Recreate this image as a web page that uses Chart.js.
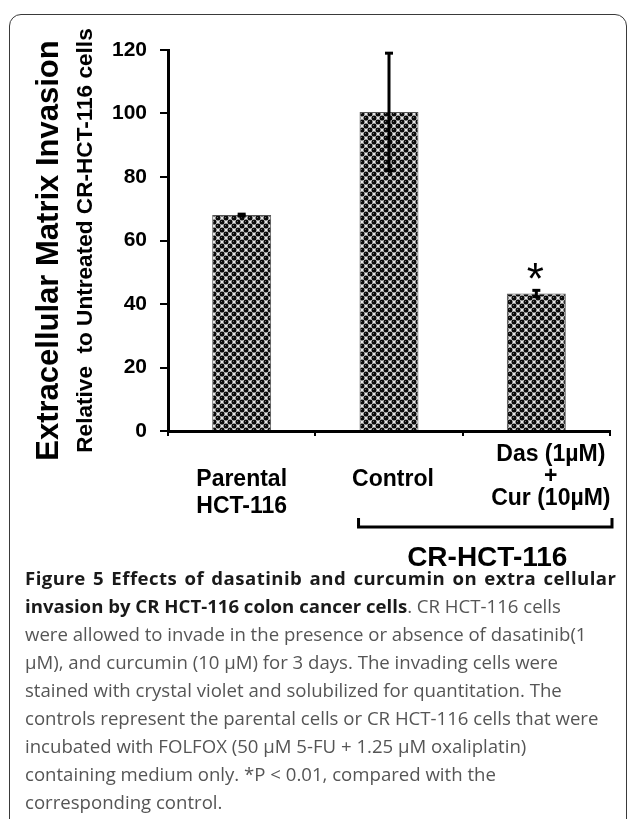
<!DOCTYPE html>
<html><head><meta charset="utf-8">
<script src="https://cdn.jsdelivr.net/npm/chart.js@4.4.0/dist/chart.umd.min.js"></script>
<style>
html,body{margin:0;padding:0;background:#fff;width:629px;height:819px;overflow:hidden;}
#card{position:absolute;left:9px;top:14px;width:618px;height:900px;border:1.5px solid #3a3a3a;border-radius:12px;box-sizing:border-box;}
#wrap{position:absolute;left:0;top:0;width:629px;height:575px;}
#caption{position:absolute;left:25px;top:564px;font-family:'Open Sans';font-size:18.6px;line-height:28px;color:#555;white-space:nowrap;}
#caption b{color:#1a1a1a;font-weight:700;}
#caption .l1{letter-spacing:0.45px;word-spacing:2px;}
</style></head><body>
<div id="card"></div>
<div id="wrap"><canvas id="c" width="629" height="575"></canvas></div>
<div id="caption">
<div class="l1"><b>Figure 5 Effects of dasatinib and curcumin on extra cellular</b></div>
<div><b>invasion by CR HCT-116 colon cancer cells</b>. CR HCT-116 cells</div>
<div>were allowed to invade in the presence or absence of dasatinib(1</div>
<div>µM), and curcumin (10 µM) for 3 days. The invading cells were</div>
<div>stained with crystal violet and solubilized for quantitation. The</div>
<div>controls represent the parental cells or CR HCT-116 cells that were</div>
<div>incubated with FOLFOX (50 µM 5-FU + 1.25 µM oxaliplatin)</div>
<div>containing medium only. *P &lt; 0.01, compared with the</div>
<div>corresponding control.</div>
</div>
<script>
// ---- data ----
const categories = [["Parental", "HCT-116"], ["Control"], ["Das (1µM)", "+", "Cur (10µM)"]];
const invasion = [68, 100.5, 43.3];
const invasionErr = [0.3, 18.5, 1];
const significance = ["", "", "*"];
const yTickMin = 0, yTickMax = 120, yTickStep = 20;
const groupLabel = "CR-HCT-116";
const groupMembers = [1, 2];
const outerTitle = "Extracellular Matrix Invasion";
const innerTitle = "Relative  to Untreated CR-HCT-116 cells";

// ---- style ----
const FONT = '"Liberation Sans", Arial, sans-serif';
const labelStyle = {
  font: 'bold 23px ' + FONT,
  dx: [0, 4, 14.5],
  firstBaseline: [55, 55, 29.5],
  lineHeight: [27, 27, 22]
};

const canvas = document.getElementById('c');
const ctx = canvas.getContext('2d');

function makePattern() {
  const t = document.createElement('canvas');
  t.width = 8; t.height = 8;
  const g = t.getContext('2d');
  g.fillStyle = '#e6e6e6'; g.fillRect(0, 0, 8, 8);
  const dot = (x, y) => {
    g.fillStyle = '#0a0a0a';
    g.beginPath(); g.arc(x, y, 2.5, 0, Math.PI * 2); g.fill();
    g.fillStyle = '#6a6a6a';
    g.fillRect(x - 1, y - 1, 1, 1);
  };
  dot(2, 2); dot(6, 6); dot(-2, 6); dot(10, 2); dot(6, -2); dot(2, 10);
  return ctx.createPattern(t, 'repeat');
}

const extras = {
  id: 'extras',
  afterDatasetsDraw(chart) {
    const c = chart.ctx, ys = chart.scales.y, xs = chart.scales.x, meta = chart.getDatasetMeta(0);
    const area = chart.chartArea;
    c.save();
    // error bars
    c.strokeStyle = '#000'; c.lineWidth = 3;
    invasion.forEach((v, i) => {
      const x = meta.data[i].x;
      const yt = ys.getPixelForValue(v + invasionErr[i]);
      const yb = ys.getPixelForValue(v - invasionErr[i]);
      c.beginPath(); c.moveTo(x, yt); c.lineTo(x, yb); c.stroke();
      c.beginPath(); c.moveTo(x - 4, yt); c.lineTo(x + 4, yt); c.stroke();
      c.beginPath(); c.moveTo(x - 4, yb); c.lineTo(x + 4, yb); c.stroke();
      if (significance[i]) {
        c.fillStyle = '#000';
        c.font = '44px ' + FONT;
        c.textAlign = 'center'; c.textBaseline = 'alphabetic';
        c.fillText(significance[i], x - 1, yt + 4);
      }
    });
    // category labels
    c.fillStyle = '#000'; c.font = labelStyle.font; c.textAlign = 'center'; c.textBaseline = 'alphabetic';
    categories.forEach((lines, i) => {
      const x = xs.getPixelForValue(i) + labelStyle.dx[i];
      lines.forEach((s, k) => {
        c.fillText(s, x, area.bottom + labelStyle.firstBaseline[i] + k * labelStyle.lineHeight[i]);
      });
    });
    // group bracket
    const b0 = meta.data[groupMembers[0]];
    const x1 = b0.x - b0.width / 2 - 1;
    const x2 = area.right + 2;
    const yb = area.bottom + 96;
    c.lineWidth = 3; c.lineJoin = 'miter';
    c.beginPath(); c.moveTo(x1, yb - 9); c.lineTo(x1, yb); c.lineTo(x2, yb); c.lineTo(x2, yb - 9); c.stroke();
    c.font = 'bold 28px ' + FONT;
    c.fillText(groupLabel, (x1 + x2) / 2 + 2, yb + 38.5);
    // outer y title
    c.translate(49, (area.top + area.bottom) / 2 + 10);
    c.rotate(-Math.PI / 2);
    c.font = 'bold 31px ' + FONT; c.textBaseline = 'middle';
    c.fillText(outerTitle, 0, 0);
    c.restore();
  }
};

new Chart(ctx, {
  type: 'bar',
  data: {
    labels: categories,
    datasets: [{
      data: invasion,
      backgroundColor: makePattern(),
      borderColor: '#555',
      borderWidth: 1,
      categoryPercentage: 0.8,
      barPercentage: 0.5
    }]
  },
  options: {
    responsive: false,
    animation: false,
    layout: { padding: { left: 0, top: 50, right: 19, bottom: 0 } },
    plugins: { legend: { display: false }, tooltip: { enabled: false } },
    scales: {
      x: {
        grid: { offset: true, drawOnChartArea: false, drawTicks: true, tickLength: 5, lineWidth: 2, color: '#000' },
        border: { display: true, width: 3, color: '#000' },
        ticks: { display: false },
        afterFit(s) { s.height = 575 - 431; s.paddingLeft = 0; s.paddingRight = 0; }
      },
      y: {
        min: yTickMin, max: yTickMax,
        ticks: { stepSize: yTickStep, color: '#000', padding: 13, font: { family: FONT, weight: 'bold', size: 21 } },
        grid: { drawOnChartArea: false, tickLength: 8, lineWidth: 2, color: '#000' },
        border: { display: true, width: 3, color: '#000' },
        title: { display: true, text: innerTitle, color: '#000', padding: { top: 72, bottom: 0 }, font: { family: FONT, weight: 'bold', size: 22.6 } },
        afterFit(s) { s.width = 168; s.paddingTop = 0; s.paddingBottom = 0; }
      }
    }
  },
  plugins: [extras]
});
</script>
</body></html>
